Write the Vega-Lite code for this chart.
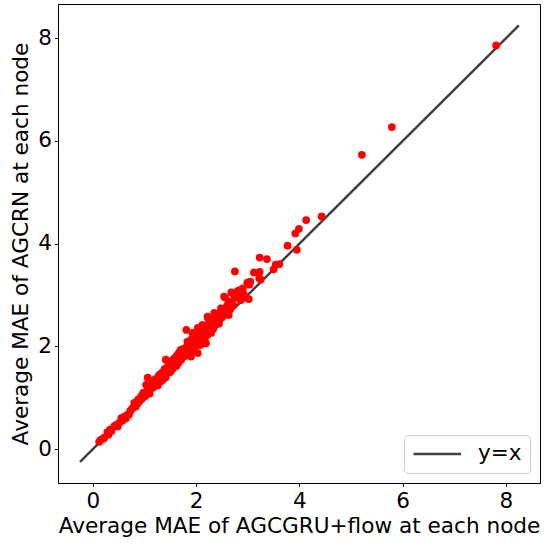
{
  "$schema": "https://vega.github.io/schema/vega-lite/v6.json",
  "width": 482,
  "height": 479,
  "autosize": "none",
  "padding": {"left": 58, "top": 4, "right": 4, "bottom": 61},
  "background": "white",
  "config": {
    "font": "DejaVu Sans",
    "view": {"stroke": "black", "strokeWidth": 1},
    "axis": {
      "grid": false,
      "domainColor": "black",
      "domainWidth": 1,
      "tickColor": "black",
      "tickWidth": 1,
      "tickSize": 3.5,
      "labelFont": "DejaVu Sans",
      "labelFontSize": 21.5,
      "labelColor": "black",
      "titleFont": "DejaVu Sans",
      "titleFontSize": 21.6,
      "titleFontWeight": "normal",
      "titleColor": "black",
      "titleLimit": 1000
    },
    "legend": {
      "labelFont": "DejaVu Sans",
      "labelFontSize": 21.5,
      "labelColor": "black"
    }
  },
  "datasets": {
    "line": [{"x": -0.25, "y": -0.25}, {"x": 8.25, "y": 8.25}],
    "points": [
      {"x":0.12,"y":0.14},{"x":0.15,"y":0.18},{"x":0.2,"y":0.2},{"x":0.22,"y":0.22},{"x":0.28,"y":0.33},{"x":0.3,"y":0.28},{"x":0.33,"y":0.38},{"x":0.36,"y":0.35},{"x":0.41,"y":0.44},{"x":0.45,"y":0.47},{"x":0.48,"y":0.44},{"x":0.52,"y":0.52},{"x":0.55,"y":0.6},{"x":0.58,"y":0.56},{"x":0.61,"y":0.63},{"x":0.64,"y":0.6},{"x":0.66,"y":0.66},{"x":0.7,"y":0.67},{"x":0.72,"y":0.74},{"x":0.74,"y":0.76},{"x":0.77,"y":0.8},{"x":0.8,"y":0.9},{"x":0.82,"y":0.85},{"x":0.83,"y":0.83},{"x":0.86,"y":0.88},{"x":0.87,"y":0.96},{"x":0.9,"y":0.93},{"x":0.93,"y":1.02},{"x":0.95,"y":0.98},{"x":0.96,"y":1.06},{"x":0.99,"y":1.04},{"x":1.0,"y":1.1},
      {"x":0.92,"y":0.97},{"x":0.98,"y":1.1},{"x":1.01,"y":1.03},{"x":1.07,"y":1.1},{"x":1.11,"y":1.24},{"x":1.15,"y":1.19},{"x":1.21,"y":1.36},{"x":1.26,"y":1.24},{"x":1.29,"y":1.45},{"x":1.33,"y":1.42},{"x":1.36,"y":1.36},{"x":1.39,"y":1.56},{"x":1.42,"y":1.46},{"x":1.45,"y":1.53},{"x":1.48,"y":1.68},{"x":1.53,"y":1.55},{"x":1.57,"y":1.7},{"x":1.59,"y":1.61},{"x":1.62,"y":1.78},{"x":1.66,"y":1.68},{"x":1.69,"y":1.86},{"x":1.71,"y":1.74},{"x":1.74,"y":1.9},{"x":1.79,"y":1.82},{"x":1.81,"y":1.96},{"x":1.86,"y":1.92},{"x":1.89,"y":2.08},{"x":1.92,"y":1.92},{"x":1.95,"y":2.2},{"x":2.01,"y":2.12},{"x":2.04,"y":2.02},{"x":2.11,"y":2.21},{"x":2.17,"y":2.16},{"x":2.21,"y":2.4},{"x":2.27,"y":2.43},{"x":2.33,"y":2.34},{"x":2.39,"y":2.56},{"x":2.45,"y":2.52},{"x":2.55,"y":2.66},{"x":2.6,"y":2.8},
      {"x":1.03,"y":1.09},{"x":1.03,"y":1.25},{"x":1.05,"y":1.12},{"x":1.06,"y":1.39},{"x":1.08,"y":1.18},{"x":1.09,"y":1.15},{"x":1.1,"y":1.08},{"x":1.12,"y":1.2},{"x":1.14,"y":1.26},{"x":1.16,"y":1.32},{"x":1.17,"y":1.22},{"x":1.19,"y":1.22},{"x":1.2,"y":1.3},{"x":1.22,"y":1.27},{"x":1.24,"y":1.36},{"x":1.25,"y":1.28},{"x":1.25,"y":1.35},{"x":1.27,"y":1.42},{"x":1.28,"y":1.33},{"x":1.3,"y":1.4},{"x":1.32,"y":1.32},{"x":1.32,"y":1.47},{"x":1.34,"y":1.38},{"x":1.35,"y":1.5},{"x":1.37,"y":1.44},{"x":1.38,"y":1.45},{"x":1.4,"y":1.52},{"x":1.41,"y":1.4},{"x":1.41,"y":1.74},{"x":1.43,"y":1.55},{"x":1.44,"y":1.48},{"x":1.45,"y":1.6},{"x":1.46,"y":1.52},{"x":1.47,"y":1.64},{"x":1.49,"y":1.58},{"x":1.5,"y":1.5},{"x":1.51,"y":1.66},
      {"x":1.51,"y":1.71},{"x":1.52,"y":1.6},{"x":1.54,"y":1.68},{"x":1.55,"y":1.58},{"x":1.56,"y":1.74},{"x":1.58,"y":1.77},{"x":1.58,"y":1.65},{"x":1.6,"y":1.7},{"x":1.61,"y":1.8},{"x":1.62,"y":1.62},{"x":1.63,"y":1.74},{"x":1.64,"y":1.84},{"x":1.65,"y":1.7},{"x":1.66,"y":1.78},{"x":1.67,"y":1.88},{"x":1.68,"y":1.74},{"x":1.7,"y":1.82},{"x":1.7,"y":1.93},{"x":1.72,"y":1.78},{"x":1.73,"y":1.86},{"x":1.74,"y":1.84},{"x":1.75,"y":1.95},{"x":1.76,"y":1.8},{"x":1.77,"y":1.87},{"x":1.78,"y":1.92},{"x":1.8,"y":1.86},{"x":1.81,"y":2.32},{"x":1.82,"y":2.0},{"x":1.83,"y":1.97},{"x":1.83,"y":2.09},{"x":1.84,"y":1.9},{"x":1.85,"y":2.04},{"x":1.87,"y":2.03},{"x":1.88,"y":1.95},{"x":1.9,"y":1.8},{"x":1.9,"y":2.13},{"x":1.91,"y":2.02},{"x":1.93,"y":2.06},{"x":1.93,"y":2.26},{"x":1.94,"y":1.96},{"x":1.96,"y":2.09},{"x":1.97,"y":1.97},{"x":1.98,"y":2.14},{"x":1.99,"y":2.16},{"x":2.0,"y":2.05},
      {"x":2.02,"y":2.2},{"x":2.03,"y":1.87},{"x":2.03,"y":2.36},{"x":2.05,"y":2.1},{"x":2.06,"y":2.26},{"x":2.07,"y":2.09},{"x":2.08,"y":2.18},{"x":2.09,"y":2.03},{"x":2.09,"y":2.19},{"x":2.1,"y":2.28},{"x":2.12,"y":2.42},{"x":2.13,"y":2.15},{"x":2.14,"y":2.39},{"x":2.15,"y":2.24},{"x":2.16,"y":2.22},{"x":2.16,"y":2.32},{"x":2.18,"y":2.3},{"x":2.19,"y":2.06},{"x":2.2,"y":2.35},{"x":2.22,"y":2.22},{"x":2.22,"y":2.58},{"x":2.23,"y":2.55},{"x":2.25,"y":2.48},{"x":2.26,"y":2.36},{"x":2.28,"y":2.3},{"x":2.29,"y":2.26},{"x":2.3,"y":2.44},{"x":2.32,"y":2.52},{"x":2.34,"y":2.38},{"x":2.35,"y":2.65},{"x":2.36,"y":2.5},{"x":2.38,"y":2.42},{"x":2.41,"y":2.58},{"x":2.43,"y":2.5},{"x":2.44,"y":2.44},{"x":2.46,"y":2.62},{"x":2.48,"y":2.74},{"x":2.48,"y":2.68},{"x":2.5,"y":2.56},
      {"x":2.52,"y":2.61},{"x":2.54,"y":2.97},{"x":2.56,"y":2.95},{"x":2.58,"y":2.7},{"x":2.61,"y":2.74},{"x":2.63,"y":2.87},{"x":2.63,"y":2.61},{"x":2.65,"y":2.71},{"x":2.67,"y":2.84},{"x":2.68,"y":3.05},{"x":2.7,"y":3.04},{"x":2.72,"y":2.8},{"x":2.74,"y":2.94},{"x":2.75,"y":3.46},{"x":2.8,"y":3.07},{"x":2.83,"y":2.94},{"x":2.83,"y":3.09},{"x":2.86,"y":2.9},{"x":2.9,"y":3.13},{"x":2.92,"y":3.02},{"x":2.97,"y":2.94},{"x":2.99,"y":3.24},{"x":3.02,"y":2.92},{"x":3.03,"y":3.2},{"x":3.05,"y":3.26},{"x":3.12,"y":3.44},{"x":3.22,"y":3.33},{"x":3.23,"y":3.45},{"x":3.23,"y":3.73},{"x":3.25,"y":3.3},{"x":3.37,"y":3.7},{"x":3.5,"y":3.5},{"x":3.54,"y":3.59},{"x":3.61,"y":3.6},
      {"x":3.77,"y":3.96},{"x":3.92,"y":4.2},{"x":3.95,"y":3.88},{"x":3.99,"y":4.29},{"x":4.13,"y":4.46},{"x":4.43,"y":4.53},{"x":5.21,"y":5.73},{"x":5.79,"y":6.27},{"x":7.81,"y":7.86}
    ]
  },
  "encoding": {
    "x": {
      "field": "x",
      "type": "quantitative",
      "scale": {"domain": [-0.677, 8.66], "nice": false, "zero": false},
      "axis": {"values": [0, 2, 4, 6, 8], "labelPadding": 4, "titlePadding": 3, "title": "Average MAE of AGCGRU+flow at each node"}
    },
    "y": {
      "field": "y",
      "type": "quantitative",
      "scale": {"domain": [-0.662, 8.668], "nice": false, "zero": false},
      "axis": {"values": [0, 2, 4, 6, 8], "labelPadding": 3, "titlePadding": 5, "titleAngle": 270, "titleBaseline": "bottom", "titleAlign": "center", "titleLineHeight": 22, "title": ["Average MAE of AGCRN at each node"]}
    }
  },
  "layer": [
    {
      "data": {"name": "line"},
      "mark": {"type": "line", "strokeWidth": 2.5, "clip": true},
      "encoding": {
        "stroke": {
          "datum": "y=x",
          "type": "nominal",
          "scale": {"range": ["#404040"]},
          "legend": {
            "title": null,
            "orient": "bottom-right",
            "offset": 10,
            "padding": 8,
            "cornerRadius": 4,
            "strokeColor": "#cccccc",
            "fillColor": "white",
            "symbolType": "M-1,0H4",
            "symbolSize": 361,
            "symbolStrokeWidth": 2.5,
            "symbolStrokeColor": "#404040",
            "labelOffset": 44
          }
        }
      }
    },
    {
      "data": {"name": "points"},
      "mark": {"type": "circle", "color": "#ff0000", "opacity": 1, "size": 60}
    }
  ]
}
